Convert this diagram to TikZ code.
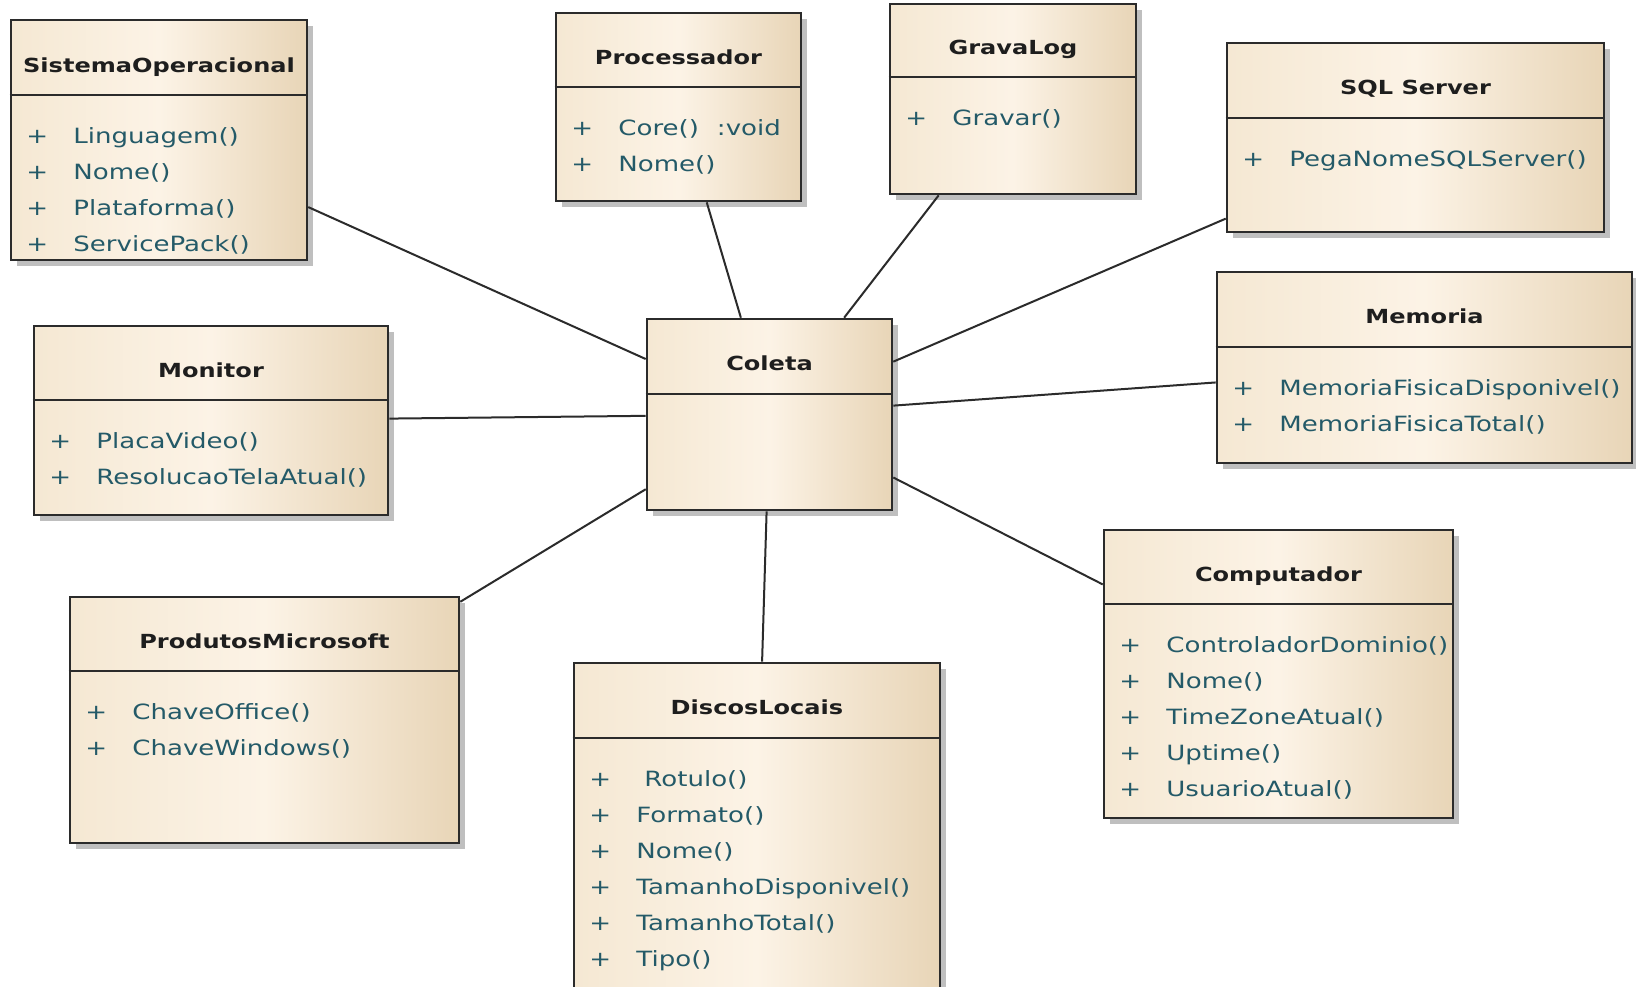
\documentclass[tikz,border=0pt]{standalone}
\usepackage{fontspec}
\newfontfamily\umlfont{DejaVu Sans}[FakeStretch=1.24]
\usetikzlibrary{shadows}

\definecolor{boxl}{HTML}{F5E8D3}
\definecolor{boxm}{HTML}{FCF3E6}
\definecolor{boxr}{HTML}{E8D5B7}
\definecolor{edge}{HTML}{2B2B2B}
\definecolor{ttext}{HTML}{1E1E1E}
\definecolor{optext}{HTML}{245A68}

\newcommand\opsat[4]{%
  \foreach \opname [count=\k from 0] in {#4}
    \node[opline] (#1\k) at (#2,#3+36*\k) {\makebox[23.5pt][l]{+}\opname};}

\begin{document}
\begin{tikzpicture}[x=0.5pt, y=-0.5pt,
                    cls/.style={draw=edge, line width=1.3pt, rectangle, inner sep=0pt,
                                left color=boxl, right color=boxr, middle color=boxm,
                                drop shadow={shadow xshift=3pt, shadow yshift=-3pt, opacity=0.5}},
                    title/.style={anchor=base, inner sep=0pt, text=ttext,
                                  font=\umlfont\bfseries\fontsize{9.7}{12}\selectfont},
                    opline/.style={anchor=base west, inner sep=0pt, text=optext,
                                   font=\umlfont\fontsize{10.5}{13}\selectfont},
                    sepline/.style={draw=edge, line width=1.2pt},
                    link/.style={draw=edge, line width=1pt}]

\fill[white] (0,0) rectangle (1636,986);
\useasboundingbox (0,0) rectangle (1636,986);
\clip (0,0) rectangle (1636,986);

\node [cls, minimum width=148pt, minimum height=120pt] (so) at (159,140) {};
\draw [sepline] (so.west |- 0,95) -- (so.east |- 0,95);
\node [title] (so-t) at (159,72.5) {SistemaOperacional};
\opsat{so}{26}{143}{Linguagem(), Nome(), Plataforma(), ServicePack()}

\node [cls, minimum width=122.5pt, minimum height=94pt] (proc) at (678.5,107) {};
\draw [sepline] (proc.west |- 0,87) -- (proc.east |- 0,87);
\node [title] (proc-t) at (678.5,64) {Processador};
\opsat{proc}{571}{135}{Core()\hspace{9pt}:void, Nome()}

\node [cls, minimum width=123pt, minimum height=95pt] (glog) at (1013,99) {};
\draw [sepline] (glog.west |- 0,77) -- (glog.east |- 0,77);
\node [title] (glog-t) at (1013,54.5) {GravaLog};
\opsat{glog}{905}{125}{Gravar()}

\node [cls, minimum width=188.5pt, minimum height=94.5pt] (sql) at (1415.5,137.5) {};
\draw [sepline] (sql.west |- 0,118) -- (sql.east |- 0,118);
\node [title] (sql-t) at (1415.5,94.5) {SQL Server};
\opsat{sql}{1242}{166}{PegaNomeSQLServer()}

\node [cls, minimum width=207.5pt, minimum height=95.5pt] (mem) at (1424.5,367.5) {};
\draw [sepline] (mem.west |- 0,347) -- (mem.east |- 0,347);
\node [title] (mem-t) at (1424.5,323.5) {Memoria};
\opsat{mem}{1232}{395}{MemoriaFisicaDisponivel(), MemoriaFisicaTotal()}

\node [cls, minimum width=177pt, minimum height=94.5pt] (mon) at (211,420.5) {};
\draw [sepline] (mon.west |- 0,400) -- (mon.east |- 0,400);
\node [title] (mon-t) at (211,377) {Monitor};
\opsat{mon}{49}{448}{PlacaVideo(), ResolucaoTelaAtual()}

\node [cls, minimum width=122.5pt, minimum height=95.5pt] (coleta) at (769.5,414.5) {};
\draw [sepline] (coleta.west |- 0,394) -- (coleta.east |- 0,394);
\node [title] (coleta-t) at (769.5,370.5) {Coleta};

\node [cls, minimum width=194.5pt, minimum height=123pt] (prod) at (264.5,720) {};
\draw [sepline] (prod.west |- 0,671) -- (prod.east |- 0,671);
\node [title] (prod-t) at (264.5,648) {ProdutosMicrosoft};
\opsat{prod}{85}{719}{ChaveOffice(), ChaveWindows()}

\node [cls, minimum width=183pt, minimum height=168.5pt] (disc) at (757,831.5) {};
\draw [sepline] (disc.west |- 0,738) -- (disc.east |- 0,738);
\node [title] (disc-t) at (757,714.5) {DiscosLocais};
\opsat{disc}{589}{786}{\hspace{4pt}Rotulo(), Formato(), Nome(), TamanhoDisponivel(), TamanhoTotal(), Tipo()}

\node [cls, minimum width=174.5pt, minimum height=144pt] (comp) at (1278.5,674) {};
\draw [sepline] (comp.west |- 0,604) -- (comp.east |- 0,604);
\node [title] (comp-t) at (1278.5,581) {Computador};
\opsat{comp}{1119}{652}{ControladorDominio(), Nome(), TimeZoneAtual(), Uptime(), UsuarioAtual()}

\draw [link] (so) -- (coleta);
\draw [link] (proc) -- (coleta);
\draw [link] (glog) -- (coleta);
\draw [link] (sql) -- (coleta);
\draw [link] (mem) -- (coleta);
\draw [link] (mon) -- (coleta);
\draw [link] (prod) -- (coleta);
\draw [link] (disc) -- (coleta);
\draw [link] (comp) -- (coleta);
\end{tikzpicture}
\end{document}
